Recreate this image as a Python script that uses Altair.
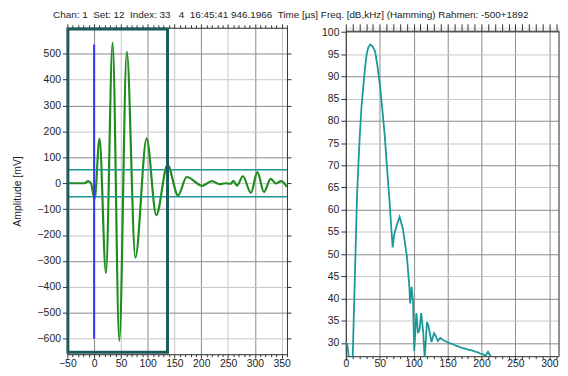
import altair as alt
import pandas as pd

FONT = "Liberation Sans"
TXT = "#222222"
NB = "\u00a0"

title_text = ("Chan: 1" + NB + NB + "Set: 12" + NB + NB + "Index: 33" + NB + NB + NB + "4" + NB + NB +
              "16:45:41 946.1966" + NB + NB + "Time [µs] Freq. [dB,kHz] (Hamming) Rahmen: -500+1892")

# ---- left panel: time signal ----
wave_x = [-50, -30, -18, -11, -6, 1, 10, 22, 34.5, 47, 61, 77, 98, 116, 137, 156.7, 172.8,
          201.8, 220, 234, 245, 255, 260, 266.7, 277.8, 292.6, 304.8, 317, 329.6, 339.4, 349, 360]
wave_y = [0, 0, 0, 8, 0, -60, 172, -346, 542, -609, 507, -287, 172, -123, 71, -47, 24,
          -10, 8, -4, 0, -2, 9, -9, 27, -37, 43, -34, 17, -1, 8, -14]

frame_x = [-49]
frame_x2 = [137]
frame_y = [-652]
frame_y2 = [595]

marker_x = [0]
marker_y = [-600]
marker_y2 = [535]

threshold_y = [52, -52]

left_x_ticks = list(range(-50, 361, 10))
left_y_ticks = list(range(-600, 501, 100))

# ---- right panel: spectrum ----
spec_x = [0, 2, 5, 8, 10, 16.5, 18.5, 20.7, 23, 25.9, 28, 30.5, 33, 36, 39.5, 43.2, 46.5, 50.2,
          53.5, 57.2, 60, 62, 64.3, 66.5, 69, 71.3, 75, 79.3, 84.2, 88.8, 90, 93.8, 94.8, 97, 99,
          100.8, 104, 106.5, 108.8, 111, 114, 116.3, 119.6, 121.5, 126.2, 130, 132.8, 135.6,
          139.3, 144, 148, 153.4, 157, 162.7, 166, 172, 176, 181.5, 186, 190.9, 194, 197.9,
          202.5, 206, 209.6, 213.4]
spec_y = [30, 29.8, 26, 24, 26, 63, 70, 77, 83, 88, 91.5, 94.8, 96.5, 97.2, 96.8, 95.6, 92.5, 88.2,
          83, 77, 71, 66.7, 62.2, 57, 51.5, 54.4, 56.5, 58.4, 55.6, 50.7, 49.6, 42.2, 38.9, 42.6, 39.3,
          28.2, 36.7, 32.2, 33, 36.7, 32.6, 26.5, 34.7, 34, 30.2, 32.2, 31.5, 30.4,
          31.1, 30.6, 30.3, 29.9, 29.8, 29.3, 29.2, 28.8, 28.7, 28.4, 28.3, 28.0, 27.9, 27.6,
          27.4, 27.1, 28.0, 27.0]

right_x_ticks = list(range(0, 311, 10))
right_y_ticks = list(range(30, 101, 5))

spacer_v = [0]

DARK = "#8a8a8a"
LIGHT = "#c6c6c6"


def cond(test, a, b):
    return {"condition": {"test": test, "value": a}, "value": b}


def common_axis(**kw):
    base = dict(domainColor="#333333", tickColor="#333333", labelColor=TXT, labelFont=FONT,
                labelFontSize=10.5, labelOverlap=False, labelFlush=False, title=None,
                domainWidth=1, tickWidth=1)
    base.update(kw)
    return alt.Axis(**base)


# Left panel
wave = pd.DataFrame({"t": wave_x, "a": wave_y})
xs_l = alt.Scale(domain=[-50, 360], nice=False, zero=False)
ys_l = alt.Scale(domain=[-660, 600], nice=False, zero=False)

wave_line = alt.Chart(wave).mark_line(color="#1e8c1e", strokeWidth=2.2, interpolate="monotone", clip=True).encode(
    x=alt.X("t:Q", scale=xs_l, axis=common_axis(
        orient="bottom", values=left_x_ticks,
        labelExpr="datum.value % 50 === 0 ? datum.label : ''",
        tickSize=cond("datum.value % 50 === 0", 4, 2.5),
        gridOpacity=cond("datum.value % 50 === 0", 1, 0),
        gridColor=cond("datum.value % 100 === 0", DARK, LIGHT),
        labelPadding=0)),
    y=alt.Y("a:Q", scale=ys_l, axis=common_axis(
        orient="left", values=left_y_ticks, tickSize=5, labelPadding=2,
        gridColor=cond("datum.value % 200 === 100 || datum.value % 200 === -100", DARK, LIGHT),
        title="Amplitude [mV]", titleFont=FONT, titleFontSize=10.5, titleFontWeight="normal",
        titleColor=TXT, titlePadding=14.5)),
)

thr = alt.Chart(pd.DataFrame({"y": threshold_y})).mark_rule(color="#1f9696", strokeWidth=1.6).encode(
    y=alt.Y("y:Q", scale=ys_l, axis=None))

marker = alt.Chart(pd.DataFrame({"x": marker_x, "y": marker_y, "y2": marker_y2})).mark_rule(
    color="#3434f0", strokeWidth=2).encode(
    x=alt.X("x:Q", scale=xs_l, axis=None), y=alt.Y("y:Q", scale=ys_l, axis=None), y2="y2:Q")

frame = alt.Chart(pd.DataFrame({"x": frame_x, "x2": frame_x2, "y": frame_y, "y2": frame_y2})).mark_rect(
    fillOpacity=0, stroke="#1d5a5a", strokeWidth=3).encode(
    x=alt.X("x:Q", scale=xs_l, axis=None), x2="x2:Q",
    y=alt.Y("y:Q", scale=ys_l, axis=None), y2="y2:Q")

axes_l = alt.Chart(wave).mark_line(opacity=0).encode(
    x=alt.X("t:Q", scale=xs_l, axis=common_axis(orient="top", values=left_x_ticks, labels=False,
                                                 tickSize=cond("datum.value % 50 === 0", 4, 3), grid=False)),
    y=alt.Y("a:Q", scale=ys_l, axis=common_axis(orient="right", values=left_y_ticks, labels=False,
                                                 tickSize=4, grid=False)),
)

left = alt.layer(wave_line, thr, marker, frame, axes_l).resolve_axis(
    x="independent", y="independent").properties(width=222, height=330)

# Right panel
spec = pd.DataFrame({"f": spec_x, "d": spec_y})
xs_r = alt.Scale(domain=[0, 313.5], nice=False, zero=False)
ys_r = alt.Scale(domain=[27, 100.3], nice=False, zero=False)

spec_line = alt.Chart(spec).mark_line(color="#1a9999", strokeWidth=1.8, clip=True).encode(
    x=alt.X("f:Q", scale=xs_r, axis=common_axis(
        orient="bottom", values=right_x_ticks,
        labelExpr="datum.value % 50 === 0 ? datum.label : ''",
        tickSize=cond("datum.value % 50 === 0", 4, 2.5),
        gridOpacity=cond("datum.value % 50 === 0", 1, 0),
        gridColor=DARK, labelPadding=-2)),
    y=alt.Y("d:Q", scale=ys_r, axis=common_axis(
        orient="left", values=right_y_ticks, tickSize=5, labelPadding=2,
        gridColor=cond("datum.value % 10 === 0", DARK, LIGHT))),
)

axes_r = alt.Chart(spec).mark_line(opacity=0).encode(
    x=alt.X("f:Q", scale=xs_r, axis=common_axis(orient="top", values=right_x_ticks, labels=False,
                                                 tickSize=7, grid=False)),
    y=alt.Y("d:Q", scale=ys_r, axis=common_axis(orient="right", values=right_y_ticks, labels=False,
                                                 tickSize=0, grid=False)),
)

right = alt.layer(spec_line, axes_r).resolve_axis(
    x="independent", y="independent").properties(width=215, height=329)

spacer = alt.Chart(pd.DataFrame({"v": spacer_v})).mark_point(opacity=0).encode(
    x=alt.X("v:Q", axis=None), y=alt.Y("v:Q", axis=None)).properties(width=215, height=3)

right_col = alt.vconcat(spacer, right, spacing=0, bounds="flush")

chart = alt.hconcat(left, right_col, spacing=28.5).properties(
    title=alt.TitleParams(text=title_text, anchor="middle", font=FONT, fontSize=10,
                          fontWeight="normal", color=TXT, offset=2, dx=5, dy=-1),
    padding={"left": 4, "top": 0, "right": 0, "bottom": 0},
).configure_view(strokeOpacity=0).configure(background="white")

chart.save("out.html", embed_options={"renderer": "svg", "actions": False})
